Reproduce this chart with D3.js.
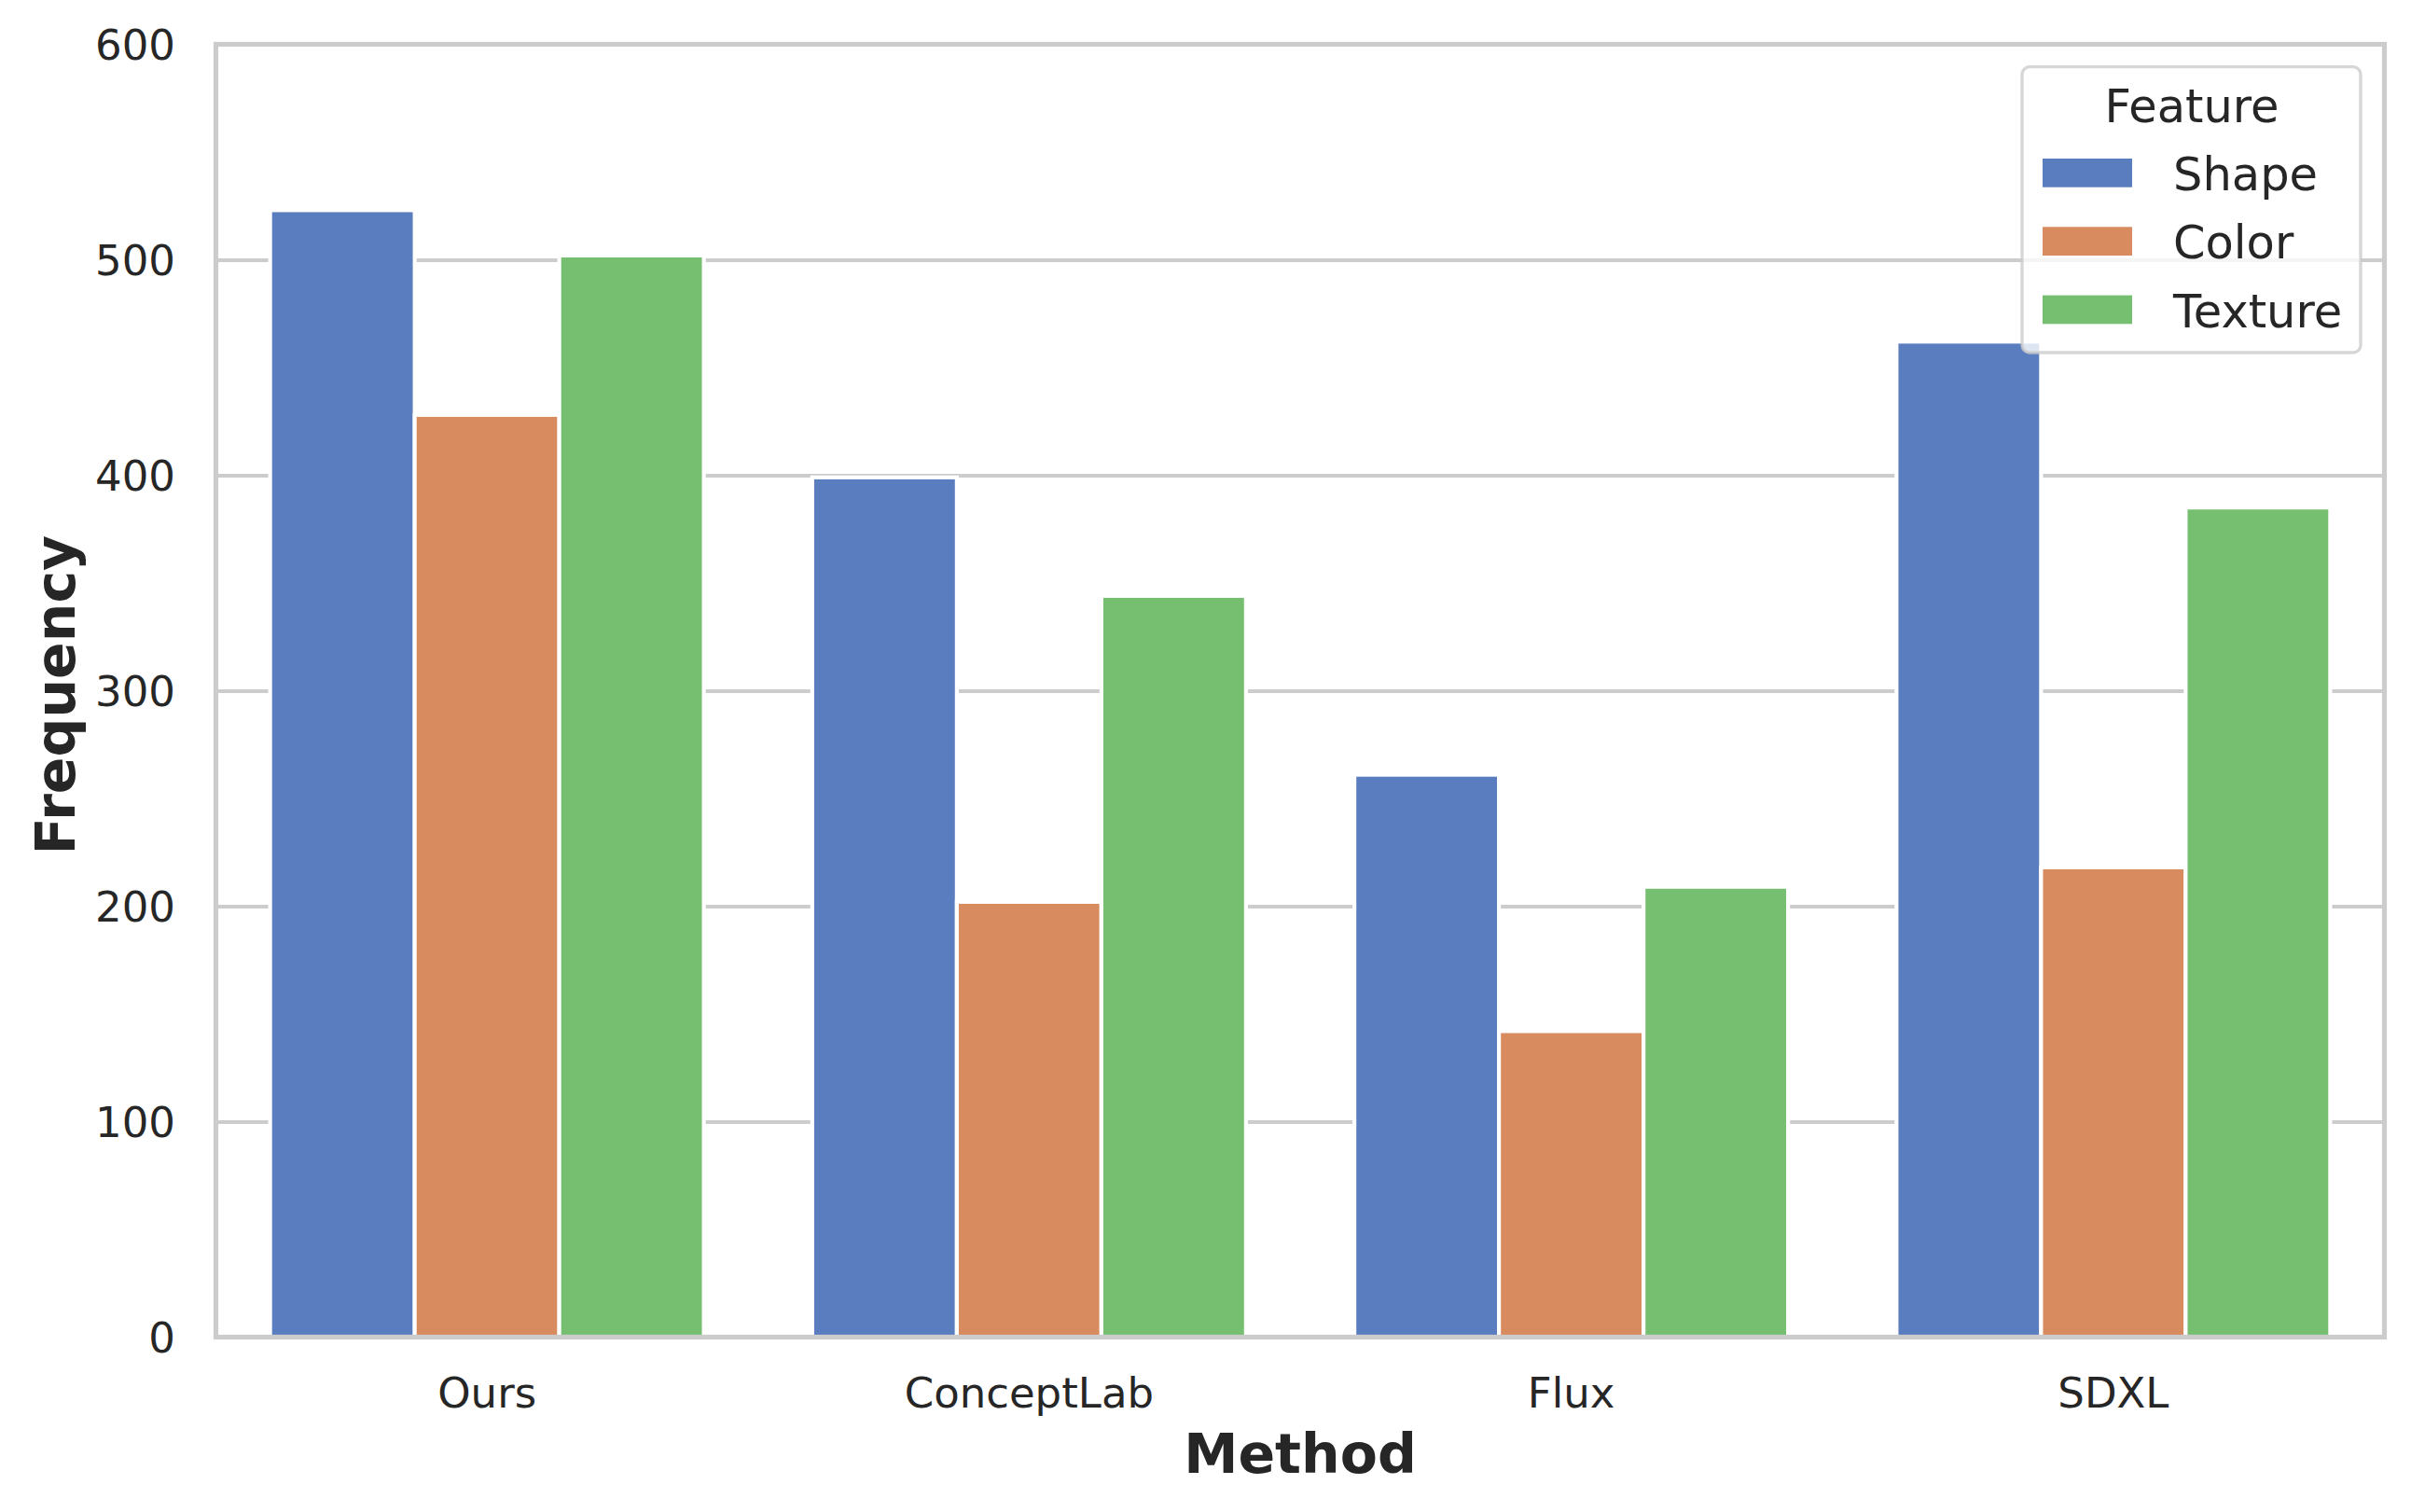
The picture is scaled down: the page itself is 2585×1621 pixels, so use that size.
<!DOCTYPE html>
<html>
<head>
<meta charset="utf-8">
<script src="https://cdn.jsdelivr.net/npm/d3@7"></script>
<style>
  html, body { margin: 0; padding: 0; background: #ffffff; }
  svg { display: block; }
  text { font-family: "DejaVu Sans", sans-serif; fill: #262626; }
</style>
</head>
<body>
<script>
const methods = ["Ours", "ConceptLab", "Flux", "SDXL"];
const features = ["Shape", "Color", "Texture"];
const shapeValues = [523, 399, 261, 462];
const colorValues = [428, 202, 142, 218];
const textureValues = [502, 344, 209, 385];
const yTicks = [0, 100, 200, 300, 400, 500, 600];
const featureColors = ["#5a7dbf", "#d98b60", "#76bf71"];

(function () {
const seriesValues = [shapeValues, colorValues, textureValues];
const rows = [];
methods.forEach((m, i) => features.forEach((f, j) => rows.push({method: m, feature: f, value: seriesValues[j][i]})));

const W = 2585, H = 1621;
const pLeft = 231.5, pRight = 2556.5, pTop = 47.5, pBottom = 1433.5;

const svg = d3.select("body").append("svg").attr("width", W).attr("height", H);

const x = d3.scaleBand().domain(methods).range([pLeft, pRight]).paddingInner(0.2).paddingOuter(0.1);
const xf = d3.scaleBand().domain(features).range([0, x.bandwidth()]).padding(0);
const y = d3.scaleLinear().domain([0, 600]).range([pBottom, pTop]);
const color = d3.scaleOrdinal().domain(features).range(featureColors);

// gridlines
const grid = svg.append("g").attr("transform", `translate(${pLeft},0)`)
  .call(d3.axisLeft(y).tickValues(yTicks).tickSize(-(pRight - pLeft)).tickFormat(""));
grid.select(".domain").remove();
grid.selectAll("line").attr("stroke", "#cccccc").attr("stroke-width", 4.17);

// bars
svg.append("g").selectAll("rect").data(rows).join("rect")
  .attr("x", d => x(d.method) + xf(d.feature))
  .attr("width", xf.bandwidth())
  .attr("y", d => y(d.value))
  .attr("height", d => y(0) - y(d.value))
  .attr("fill", d => color(d.feature))
  .attr("stroke", "#ffffff")
  .attr("stroke-width", 4.17);

// spines
svg.append("rect").attr("x", pLeft).attr("y", pTop).attr("width", pRight - pLeft).attr("height", pBottom - pTop)
  .attr("fill", "none").attr("stroke", "#cccccc").attr("stroke-width", 5.2);

// y axis labels
const yAxis = svg.append("g").attr("transform", `translate(${pLeft},0)`)
  .call(d3.axisLeft(y).tickValues(yTicks).tickSize(0).tickPadding(43.5));
yAxis.select(".domain").remove();
yAxis.selectAll("text").style("font-size", "45px").attr("fill", "#262626").attr("font-family", "DejaVu Sans").attr("dy", "0.36em");

// x axis labels
const xAxis = svg.append("g").attr("transform", `translate(0,${pBottom})`)
  .call(d3.axisBottom(x).tickSize(0).tickPadding(0));
xAxis.select(".domain").remove();
xAxis.selectAll("text").style("font-size", "45px").attr("fill", "#262626").attr("font-family", "DejaVu Sans")
  .attr("y", 75.5).attr("dy", 0);

// axis titles
svg.append("text").attr("x", (pLeft + pRight) / 2).attr("y", 1579).attr("text-anchor", "middle")
  .style("font-size", "58.5px").style("font-weight", "bold").text("Method");
svg.append("text").attr("transform", `translate(79.5,745) rotate(-90)`).attr("text-anchor", "middle")
  .style("font-size", "58.5px").style("font-weight", "bold").text("Frequency");

// legend
const lg = svg.append("g");
lg.append("rect").attr("x", 2168).attr("y", 71.7).attr("width", 2531 - 2168).attr("height", 378 - 71.7)
  .attr("rx", 8).attr("fill", "#ffffff").attr("fill-opacity", 0.8).attr("stroke", "#cccccc").attr("stroke-opacity", 0.8).attr("stroke-width", 3.3);
lg.append("text").attr("x", 2350).attr("y", 131).attr("text-anchor", "middle").style("font-size", "49.5px").text("Feature");
features.forEach((f, i) => {
  const yy = 170 + i * 73.3;
  lg.append("rect").attr("x", 2190).attr("y", yy).attr("width", 96).attr("height", 30.7).attr("fill", color(f));
  lg.append("text").attr("x", 2330).attr("y", yy + 34).style("font-size", "49.5px").text(f);
});
})();
</script>
</body>
</html>
